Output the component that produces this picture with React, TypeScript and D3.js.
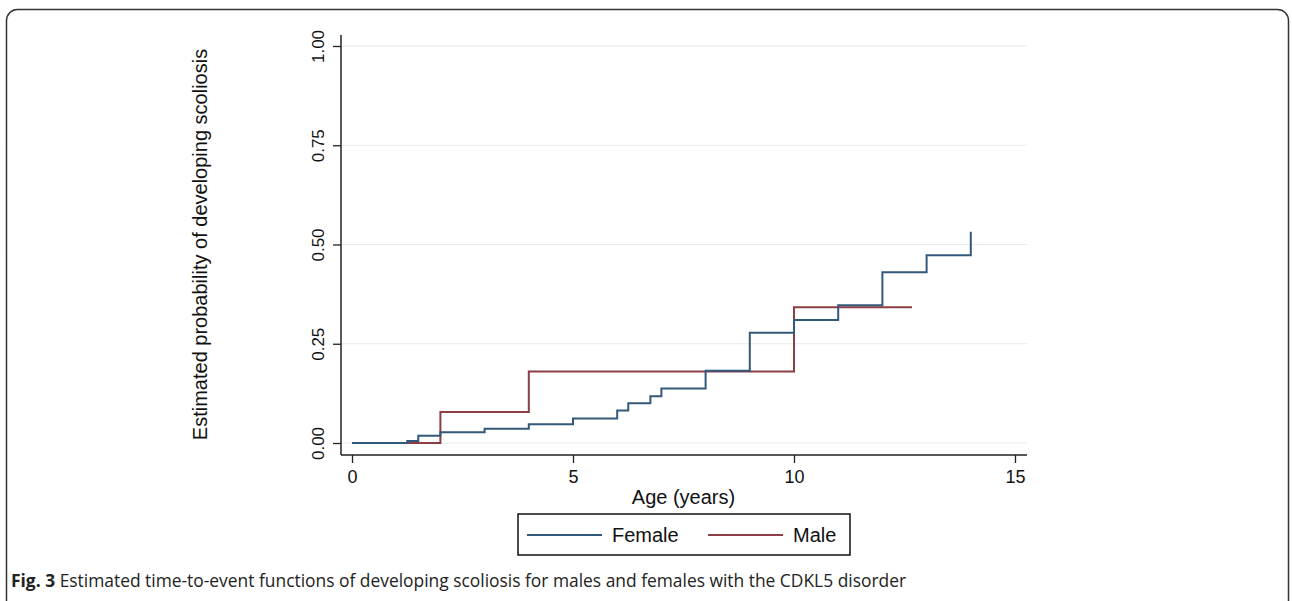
import {useEffect, useRef} from "react";
import * as d3 from "d3";

// Kaplan-Meier style step data
const femaleAge = [0, 1.25, 1.5, 2, 3, 4, 5, 6, 6.25, 6.75, 7, 8, 9, 10, 11, 12, 13, 14];
const femaleProb = [0, 0.005, 0.018, 0.027, 0.036, 0.047, 0.062, 0.082, 0.1, 0.118, 0.137, 0.182, 0.278, 0.31, 0.347, 0.43, 0.473, 0.532];
const femaleEnd = 14;

const maleAge = [0, 2, 4, 10];
const maleProb = [0, 0.078, 0.18, 0.342];
const maleEnd = 12.67;

const xTicks = [0, 5, 10, 15];
const yTicks = [0, 0.25, 0.5, 0.75, 1];

const seriesNames = ["Female", "Male"];
const seriesColors = ["#33597a", "#8e3d45"];

const caption = "Estimated time-to-event functions of developing scoliosis for males and females with the CDKL5 disorder";

function toPoints(ages: number[], probs: number[], end: number) {
    const pts: [number, number][] = ages.map((a, i) => [a, probs[i]]);
    if (end > ages[ages.length - 1]) pts.push([end, probs[probs.length - 1]]);
    return pts;
}

function App() {
    const ref = useRef<SVGSVGElement>(null);
    const width = 1292, height = 601;

    useEffect(() => {
        const svg = d3.select(ref.current);
        svg.selectAll("*").remove();

        const font = "'Liberation Sans', Arial, sans-serif";

        // outer frame of the figure
        svg.append("rect")
            .attr("x", 6.5).attr("y", 9.5)
            .attr("width", 1282).attr("height", 640)
            .attr("rx", 11)
            .attr("fill", "white")
            .attr("stroke", "#333")
            .attr("stroke-width", 1.5);

        const x = d3.scaleLinear().domain([0, 15]).range([352, 1015]);
        const y = d3.scaleLinear().domain([0, 1]).range([443, 46]);

        const axisX = 341, axisY = 455, plotRight = 1027, plotTop = 35;

        // gridlines
        svg.append("g")
            .selectAll("line")
            .data(yTicks)
            .enter()
            .append("line")
            .attr("x1", axisX).attr("x2", plotRight)
            .attr("y1", d => y(d)).attr("y2", d => y(d))
            .attr("stroke", "#e6ebec")
            .attr("stroke-width", 1.2);

        // y axis
        const gy = svg.append("g")
            .attr("transform", "translate(" + axisX + ",0)")
            .call(d3.axisLeft(y).tickValues(yTicks).tickSize(8).tickSizeOuter(0).tickFormat(d3.format(".2f")));
        gy.select(".domain").remove();
        gy.selectAll("line").attr("stroke", "#222").attr("stroke-width", 1.3);
        gy.selectAll("text")
            .attr("transform", "rotate(-90)")
            .attr("x", 0).attr("y", -17).attr("dy", 0)
            .style("text-anchor", "middle")
            .style("font-family", font)
            .style("font-size", "17px")
            .attr("fill", "#111");
        svg.append("line")
            .attr("x1", axisX).attr("x2", axisX)
            .attr("y1", plotTop).attr("y2", axisY)
            .attr("stroke", "#222").attr("stroke-width", 1.5);

        // x axis
        const gx = svg.append("g")
            .attr("transform", "translate(0," + axisY + ")")
            .call(d3.axisBottom(x).tickValues(xTicks).tickSize(8).tickSizeOuter(0));
        gx.select(".domain").remove();
        gx.selectAll("line").attr("stroke", "#222").attr("stroke-width", 1.3);
        gx.selectAll("text")
            .attr("y", 15)
            .style("font-family", font)
            .style("font-size", "18px")
            .attr("fill", "#111");
        svg.append("line")
            .attr("x1", axisX).attr("x2", plotRight)
            .attr("y1", axisY).attr("y2", axisY)
            .attr("stroke", "#222").attr("stroke-width", 1.5);

        // step lines
        const line = d3.line<[number, number]>()
            .x(d => x(d[0]))
            .y(d => y(d[1]))
            .curve(d3.curveStepAfter);

        const series = [
            toPoints(femaleAge, femaleProb, femaleEnd),
            toPoints(maleAge, maleProb, maleEnd),
        ];
        // draw male first, female on top
        [1, 0].forEach(i => {
            svg.append("path")
                .attr("d", line(series[i]))
                .attr("fill", "none")
                .attr("stroke", seriesColors[i])
                .attr("stroke-width", 2);
        });

        // axis titles
        svg.append("text")
            .attr("transform", "translate(207," + y(0.5) + ") rotate(-90)")
            .style("text-anchor", "middle")
            .style("font-family", font)
            .style("font-size", "20px")
            .attr("fill", "#111")
            .text("Estimated probability of developing scoliosis");

        svg.append("text")
            .attr("x", (x(0) + x(15)) / 2)
            .attr("y", 504)
            .style("text-anchor", "middle")
            .style("font-family", font)
            .style("font-size", "20px")
            .attr("fill", "#111")
            .text("Age (years)");

        // legend
        const lg = svg.append("g");
        lg.append("rect")
            .attr("x", 518).attr("y", 514)
            .attr("width", 332).attr("height", 41)
            .attr("fill", "white")
            .attr("stroke", "#111")
            .attr("stroke-width", 1.5);
        const legendX = [527, 708];
        seriesNames.forEach((name, i) => {
            lg.append("line")
                .attr("x1", legendX[i]).attr("x2", legendX[i] + 75)
                .attr("y1", 535).attr("y2", 535)
                .attr("stroke", seriesColors[i])
                .attr("stroke-width", 2);
            lg.append("text")
                .attr("x", legendX[i] + 85)
                .attr("y", 542)
                .style("font-family", font)
                .style("font-size", "20px")
                .attr("fill", "#111")
                .text(name);
        });

        // figure caption
        const cap = svg.append("text")
            .attr("x", 11)
            .attr("y", 587)
            .style("font-family", "'Open Sans', sans-serif")
            .style("font-size", "17.4px")
            .attr("fill", "#222");
        cap.append("tspan").attr("font-weight", "bold").text("Fig. 3");
        cap.append("tspan").text(" " + caption);
    });

    return (
        <svg ref={ref} width={width} height={height}
             style={{position: "absolute", left: 0, top: 0, background: "white"}} />
    );
}

export default App;
